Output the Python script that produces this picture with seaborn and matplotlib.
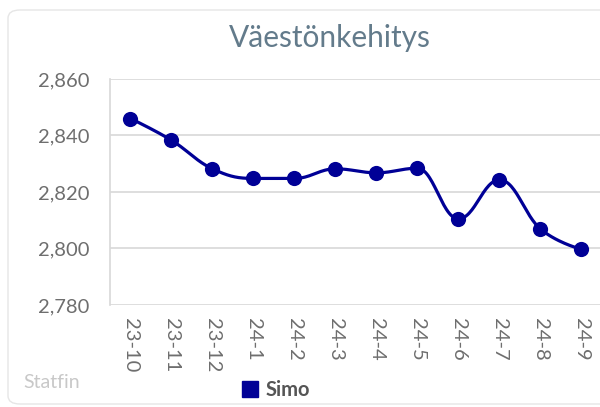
import numpy as np
import pandas as pd
import matplotlib
matplotlib.use("Agg")
import matplotlib.pyplot as plt
from matplotlib.lines import Line2D
from matplotlib.patches import FancyBboxPatch
import seaborn as sns

# data
months = ["23-10", "23-11", "23-12", "24-1", "24-2", "24-3",
          "24-4", "24-5", "24-6", "24-7", "24-8", "24-9"]
simo = [2846, 2838.3, 2828.2, 2824.8, 2824.8, 2828.2,
        2826.8, 2828.4, 2810.5, 2824.3, 2806.9, 2799.7]
y_ticks = [2780, 2800, 2820, 2840, 2860]

NAVY = "#000096"

sns.set_theme(style="white")
plt.rcParams["font.family"] = ["Lato", "DejaVu Sans"]

df = pd.DataFrame({"month": months, "value": simo})
df["pos"] = np.arange(len(df))


# highcharts-like spline (smoothing 1.5)
def spline_path(xs, ys, steps=30):
    n = len(xs)
    rc = [(xs[i], ys[i]) for i in range(n)]
    lc = [(xs[i], ys[i]) for i in range(n)]
    s = 1.5
    d = s + 1
    for i in range(1, n - 1):
        px, py = xs[i], ys[i]
        lx, ly = xs[i - 1], ys[i - 1]
        nx, ny = xs[i + 1], ys[i + 1]
        lcx = (s * px + lx) / d
        lcy = (s * py + ly) / d
        rcx = (s * px + nx) / d
        rcy = (s * py + ny) / d
        corr = (rcy - lcy) * (rcx - px) / (rcx - lcx) + py - rcy
        lcy += corr
        rcy += corr
        if lcy > ly and lcy > py:
            lcy = max(ly, py)
            rcy = 2 * py - lcy
        elif lcy < ly and lcy < py:
            lcy = min(ly, py)
            rcy = 2 * py - lcy
        if rcy > ny and rcy > py:
            rcy = max(ny, py)
            lcy = 2 * py - rcy
        elif rcy < ny and rcy < py:
            rcy = min(ny, py)
            lcy = 2 * py - rcy
        lc[i] = (lcx, lcy)
        rc[i] = (rcx, rcy)
    t = np.linspace(0, 1, steps)
    outx, outy = [], []
    for i in range(1, n):
        p0 = (xs[i - 1], ys[i - 1])
        p1 = rc[i - 1]
        p2 = lc[i]
        p3 = (xs[i], ys[i])
        for k in range(2):
            c = ((1 - t) ** 3 * p0[k] + 3 * (1 - t) ** 2 * t * p1[k]
                 + 3 * (1 - t) * t ** 2 * p2[k] + t ** 3 * p3[k])
            (outx if k == 0 else outy).extend(c[:-1] if i < n - 1 else c)
    return np.array(outx), np.array(outy)


fig = plt.figure(figsize=(6, 4.07), dpi=100)
card = FancyBboxPatch((8 / 600, 3 / 407), 1.2, 394 / 407,
                      boxstyle="round,pad=0,rounding_size=0.02",
                      transform=fig.transFigure, facecolor="none",
                      edgecolor="#e6e6e6", linewidth=1.0, zorder=-10)
fig.patches.append(card)

ax = fig.add_axes([110 / 600, 1 - 305 / 407, 492 / 600, 226 / 407])
ax.set_facecolor("none")

cx, cy = spline_path(df["pos"].values.astype(float), df["value"].values)
sns.lineplot(x=cx, y=cy, ax=ax, color=NAVY, linewidth=2.3, sort=False,
             estimator=None, zorder=3)
sns.scatterplot(data=df, x="pos", y="value", ax=ax, color=NAVY, s=120,
                edgecolor=NAVY, linewidth=0, zorder=4)

ax.set_xlim(-0.5, len(months) - 0.5)
ax.set_ylim(2780, 2860)
ax.set_yticks(y_ticks)
ax.set_yticklabels([f"{v:,}" for v in y_ticks])
ax.set_xticks(df["pos"])
ax.set_xticklabels(months, rotation=270, va="top", ha="center")
ax.tick_params(axis="both", length=0, labelsize=14.5, colors="#6e6e6e")
ax.tick_params(axis="y", pad=15)
ax.tick_params(axis="x", pad=9)
ax.set_xlabel("")
ax.set_ylabel("")
ax.grid(axis="y", color="#d8d8d8", linewidth=1.2)
for side in ["top", "right", "bottom"]:
    ax.spines[side].set_visible(False)
ax.spines["left"].set_color("#d8d8d8")
ax.spines["left"].set_linewidth(1.2)

fig.text(330 / 600, 1 - 38 / 407, "Väestönkehitys", ha="center", va="center",
         fontsize=21.5, color="#637b8b")
fig.text(23 / 600, 1 - 383 / 407, "Statfin", ha="left", va="center",
         fontsize=14, color="#c8c8c8")

handle = Line2D([], [], marker="s", linestyle="", color=NAVY, markersize=11)
fig.legend(handles=[handle], labels=["Simo"], loc="center",
           bbox_to_anchor=(276 / 600, 1 - 390 / 407), frameon=False,
           handlelength=0.8, handletextpad=0.4,
           prop={"weight": "bold", "size": 14.5}, labelcolor="#555555")

fig.savefig("out.png", dpi=100)
